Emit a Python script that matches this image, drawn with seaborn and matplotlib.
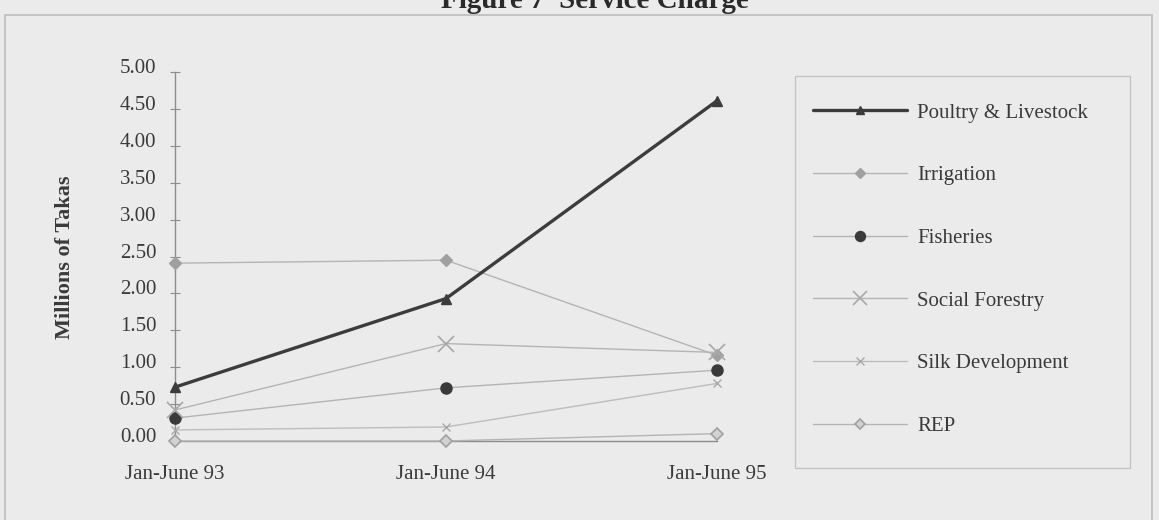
import matplotlib
matplotlib.use("Agg")
import matplotlib.pyplot as plt
import matplotlib.transforms as mtransforms
from matplotlib.patches import Rectangle
from matplotlib.lines import Line2D
import seaborn as sns
import pandas as pd

# Six-month periods and service-charge series (millions of Takas)
periods = ["Jan-June 93", "Jan-June 94", "Jan-June 95"]
poultry_livestock = [0.73, 1.93, 4.61]
irrigation = [2.41, 2.45, 1.16]
fisheries = [0.31, 0.72, 0.96]
social_forestry = [0.42, 1.32, 1.20]
silk_development = [0.15, 0.19, 0.78]
rep = [0.00, 0.00, 0.10]
y_ticks = [0.0, 0.5, 1.0, 1.5, 2.0, 2.5, 3.0, 3.5, 4.0, 4.5, 5.0]

series_names = ["Poultry & Livestock", "Irrigation", "Fisheries",
                "Social Forestry", "Silk Development", "REP"]
series_values = [poultry_livestock, irrigation, fisheries,
                 social_forestry, silk_development, rep]

rows = []
for name, vals in zip(series_names, series_values):
    for i, v in enumerate(vals):
        rows.append({"series": name, "period": i, "value": v})
df = pd.DataFrame(rows)

bg = "#ebebeb"
txt = "#3a3a3a"
fs = 15
sns.set_theme(style="white")
plt.rcParams["font.family"] = ["Liberation Serif", "DejaVu Serif"]

styles = {
    "Poultry & Livestock": dict(color="#3c3c3c", lw=2.4, marker="^", ms=7,
                                mfc="#3c3c3c", mec="#3c3c3c", mew=1),
    "Irrigation": dict(color="#b4b4b4", lw=1.0, marker="D", ms=6,
                       mfc="#a0a0a0", mec="#a0a0a0", mew=1),
    "Fisheries": dict(color="#b4b4b4", lw=1.0, marker="o", ms=8,
                      mfc="#3a3a3a", mec="#3a3a3a", mew=1),
    "Social Forestry": dict(color="#b4b4b4", lw=1.0, marker="x", ms=11,
                            mfc="#a8a8a8", mec="#a8a8a8", mew=1.2),
    "Silk Development": dict(color="#bcbcbc", lw=1.0, marker="x", ms=6,
                             mfc="#a8a8a8", mec="#a8a8a8", mew=1.0),
    "REP": dict(color="#b4b4b4", lw=1.0, marker="D", ms=6,
                mfc="#d2d2d2", mec="#a0a0a0", mew=1.2),
}

fig = plt.figure(figsize=(11.59, 5.2), dpi=100, facecolor=bg)
W, H = 1159, 520
left, right = 175 / W, 717 / W
bottom, top = (H - 441) / H, (H - 72) / H
ax = fig.add_axes([left, bottom, right - left, top - bottom])
ax.set_facecolor(bg)

for name in series_names:
    st = styles[name]
    sub = df[df["series"] == name]
    sns.lineplot(data=sub, x="period", y="value", ax=ax, color=st["color"],
                 linewidth=st["lw"], marker=st["marker"], markersize=st["ms"],
                 markerfacecolor=st["mfc"], markeredgecolor=st["mec"],
                 markeredgewidth=st["mew"], legend=False, clip_on=False,
                 zorder=5 if name == "Poultry & Livestock" else 4)

ax.set_xlim(0, 2)
ax.set_ylim(0, 5)
ax.set_xticks(range(len(periods)))
ax.set_xticklabels(periods)
ax.set_yticks(y_ticks)
ax.set_yticklabels([f"{t:.2f}" for t in y_ticks])
ax.set_xlabel("")
ax.set_ylabel("")

for s in ["top", "right"]:
    ax.spines[s].set_visible(False)
for s in ["left", "bottom"]:
    ax.spines[s].set_color("#8c8c8c")
    ax.spines[s].set_linewidth(1.0)

ax.tick_params(axis="y", direction="inout", length=7, width=0.8,
               color="#8c8c8c", pad=10, labelsize=fs, labelcolor=txt,
               left=True)
ax.tick_params(axis="x", length=0, pad=17, labelsize=fs, labelcolor=txt)

# tick labels sit slightly above their ticks
shift = mtransforms.ScaledTranslation(0, 6 / 100, fig.dpi_scale_trans)
for lab in ax.get_yticklabels():
    lab.set_transform(lab.get_transform() + shift)

fig.text(65 / W, 1 - 257 / H, "Millions of Takas", rotation=90,
         ha="center", va="center", fontsize=16, fontweight="bold",
         color=txt)

# title, partly above the page edge
fig.text(595 / W, 1 - 8 / H, "Figure 7  Service Charge", ha="center",
         va="baseline", fontsize=21, fontweight="bold", color="#2a2a2a")

# outer chart frame
fig.patches.append(Rectangle((5 / W, -0.05), (1152 - 5) / W, 1.05 - 15 / H,
                             transform=fig.transFigure, fill=False,
                             edgecolor="#bdbdbd", linewidth=1.2))

# legend frame
lx0, lx1, ly0, ly1 = 795, 1130, 76, 468
fig.patches.append(Rectangle((lx0 / W, 1 - ly1 / H), (lx1 - lx0) / W,
                             (ly1 - ly0) / H, transform=fig.transFigure,
                             fill=False, edgecolor="#c4c4c4", linewidth=1.0))

handles = []
for name in series_names:
    st = styles[name]
    handles.append(Line2D([], [], color=st["color"], lw=st["lw"],
                          marker=st["marker"], ms=st["ms"] * 0.9,
                          mfc=st["mfc"], mec=st["mec"], mew=st["mew"]))
leg = fig.legend(handles, series_names, loc="upper left",
                 bbox_to_anchor=(813 / W, 1 - 103 / H), frameon=False,
                 fontsize=fs, handlelength=4.5, handletextpad=0.5,
                 labelspacing=2.07, borderpad=0, borderaxespad=0)
for t in leg.get_texts():
    t.set_color(txt)

fig.savefig("out.png", dpi=100, facecolor=bg)
